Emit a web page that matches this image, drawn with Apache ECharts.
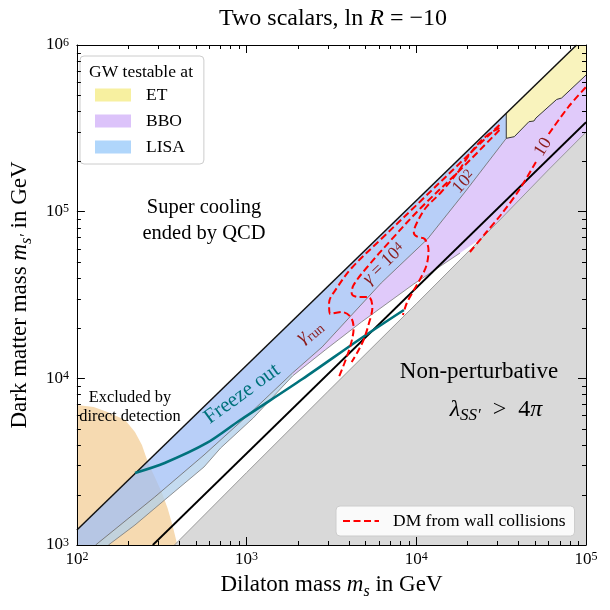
<!DOCTYPE html>
<html><head><meta charset="utf-8">
<script src="https://cdn.jsdelivr.net/npm/echarts@6/dist/echarts.min.js"></script>
<style>html,body{margin:0;padding:0;background:#fff}#c{width:610px;height:610px}</style>
</head><body><div id="c"></div>
<script>
const F = 'Liberation Serif';
// ---- axis ticks ----
const xMajor = [100, 1000, 10000, 100000];
const yMajor = [1000, 10000, 100000, 1000000];
const minorMult = [2, 3, 4, 5, 6, 7, 8, 9];

// ---- boundary lines ----
const upperLine = [[100, 1230], [88000, 1000000]];
const lowerLine = [[280, 1000], [100000, 344000]];
const freezeOut = [[220, 2705], [329, 3105], [583, 4093], [918, 5623], [2133, 9908], [4757, 17460], [8450, 25700]];

// ---- regions ----
const lisaRegion = [[100, 1000], [100, 1230], [33900, 389500], [33900, 275400], [19360, 131200], [11650, 68550], [6210, 37330], [2786, 15420], [1866, 10770], [1052, 6194], [561, 3467], [287.7, 1941], [128.9, 1000]];
const lisaLowBand = [[128.9, 1000], [287.7, 1941], [561, 3467], [1052, 6194], [1866, 10770], [1866, 10330], [1094, 5781], [703, 3819], [561, 2938], [328.7, 1862], [219.8, 1318], [153.4, 1000]];
const bboRegion = [[1866, 10770], [2786, 15420], [6210, 37330], [11650, 68550], [19360, 131200], [33900, 275400], [37800, 281800], [38800, 288400], [46100, 346700], [49320, 349900], [50700, 364800], [67100, 471000], [71800, 480800], [100000, 660000], [100000, 190500], [18100, 56490], [9660, 36810], [4753, 21780], [2904, 14790], [1866, 10330]];
const etRegion = [[33900, 275400], [33900, 389500], [88000, 1000000], [100000, 1000000], [100000, 660000], [71800, 480800], [67100, 471000], [50700, 364800], [49320, 349900], [46100, 346700], [38800, 288400], [37800, 281800]];
const grayRegion = [[376, 1000], [1000, 2720], [3000, 8300], [10000, 28000], [30000, 86000], [60000, 178000], [100000, 300000], [100000, 1000]];
const ddRegion = [[100, 1000], [100, 6918], [125.5, 6730], [151.4, 6281], [192.3, 5623], [219.8, 4764], [241.6, 3981], [261.8, 3148], [287.7, 2559], [315.5, 2080], [342, 1667], [365.5, 1318], [390.9, 1000]];

// ---- outlines ----
const edgeL1 = [[128.9, 1000], [287.7, 1941], [561, 3467], [1052, 6194], [1866, 10770], [2786, 15420], [6210, 37330], [11650, 68550], [19360, 131200], [33900, 275400]];
const edgeL2 = [[153.4, 1000], [219.8, 1318], [328.7, 1862], [561, 2938], [703, 3819], [1094, 5781], [1866, 10330], [2904, 14790], [4753, 21780], [9660, 36810], [18100, 56490]];
const edgeGray = [[376, 1000], [1000, 2720], [3000, 8300], [10000, 28000], [30000, 86000], [60000, 178000], [100000, 300000]];
const edgeET = [[33900, 389500], [33900, 275400], [37800, 281800], [38800, 288400], [46100, 346700], [49320, 349900], [50700, 364800], [67100, 471000], [71800, 480800], [100000, 660000]];

// ---- gamma contours (DM from wall collisions) ----
const gRun = [[30900, 331000], [18100, 195900], [10620, 115900], [6210, 68550], [4160, 45920], [3403, 34830], [3062, 28310], [3104, 24320], [3639, 25000], [4102, 23330], [4272, 20040], [4102, 15850], [3793, 12530], [3499, 10190]];
const g1e4 = [[30900, 309000], [18100, 177800], [10620, 105200], [7096, 67600], [5082, 45920], [4272, 36310], [4160, 32510], [4508, 30760], [5224, 30760], [5510, 26790], [5224, 20890], [4887, 16980], [4508, 14390], [4160, 12530]];
const g1e2 = [[30900, 317700], [26300, 288400], [21530, 234400], [17380, 170600], [13870, 129400], [11350, 105200], [9940, 83180], [9670, 74470], [10190, 70470], [11200, 68550], [11800, 58880], [11500, 47860], [10620, 39990], [9530, 32960], [8790, 28310], [8340, 23990]];
const g10a = [[20700, 57280], [25940, 75510], [32140, 98160], [40360, 134900], [50700, 198600]];
const g10b = [[60300, 292400], [78700, 424600], [100000, 559800]];

const DM = 'DM from wall collisions';
const DARKRED = '#8b1a1a';
const TEAL = '#00727c';

function poly(points, fill) {
  return function (params, api) {
    if (params.dataIndex !== 0) return null;
    return { type: 'polygon', shape: { points: points.map(p => api.coord(p)) }, style: { fill: fill } };
  };
}
function region(name, data, fill, legendColor, z) {
  return { type: 'custom', name: name, data: data, coordinateSystem: 'cartesian2d', clip: true, silent: true, z: z,
    itemStyle: { color: legendColor || fill }, renderItem: poly(data, fill) };
}
function line(name, data, color, width, type, z, smooth) {
  return { type: 'line', name: name, data: data, symbol: 'none', silent: true, z: z, smooth: smooth || false,
    clip: true, itemStyle: { color: color }, lineStyle: { color: color, width: width, type: type || 'solid' } };
}

const minorX = [], minorY = [];
xMajor.slice(0, -1).forEach(d => minorMult.forEach(m => minorX.push(d * m)));
yMajor.slice(0, -1).forEach(d => minorMult.forEach(m => minorY.push(d * m)));

const tickStyle = { stroke: '#000', lineWidth: 1 };
const minorTicks = {
  type: 'custom', coordinateSystem: 'cartesian2d', silent: true, z: 20,
  data: minorX.map(v => [v, 1000]).concat(minorY.map(v => [100, v])),
  renderItem: function (params, api) {
    const cs = params.coordSys;
    const p = api.coord([api.value(0), api.value(1)]);
    if (params.dataIndex < minorX.length) {
      const x = Math.round(p[0]) + 0.5;
      return { type: 'group', children: [
        { type: 'line', shape: { x1: x, y1: cs.y + cs.height, x2: x, y2: cs.y + cs.height - 4 }, style: tickStyle },
        { type: 'line', shape: { x1: x, y1: cs.y, x2: x, y2: cs.y + 4 }, style: tickStyle }] };
    } else {
      const y = Math.round(p[1]) + 0.5;
      return { type: 'group', children: [
        { type: 'line', shape: { x1: cs.x, y1: y, x2: cs.x + 4, y2: y }, style: tickStyle },
        { type: 'line', shape: { x1: cs.x + cs.width, y1: y, x2: cs.x + cs.width - 4, y2: y }, style: tickStyle }] };
    }
  }
};

const labRich = {
  b: { fontFamily: F, fontSize: 17, color: '#000', verticalAlign: 'bottom' },
  e: { fontFamily: F, fontSize: 12, color: '#000', verticalAlign: 'top' }
};
const fmt = v => '{b|10}{e|' + Math.round(Math.log10(v)) + '}';
const nameRich = {
  n: { fontFamily: F, fontSize: 23, color: '#000', verticalAlign: 'bottom', padding: [0, 0, 4, 0] },
  i: { fontFamily: F, fontSize: 23, color: '#000', fontStyle: 'italic', verticalAlign: 'bottom', padding: [0, 0, 4, 0] },
  s: { fontFamily: F, fontSize: 16, color: '#000', fontStyle: 'italic', verticalAlign: 'bottom' }
};
function axisBase(extra) {
  return Object.assign({
    type: 'log', logBase: 10, z: 10,
    axisLine: { show: true, lineStyle: { color: '#000', width: 1 } },
    axisTick: { show: true, inside: true, length: 8, lineStyle: { color: '#000', width: 1 } },
    splitLine: { show: false }, minorTick: { show: false }
  }, extra);
}
function txt(x, y, rotDeg, text, size, color, rich, extra) {
  const st = Object.assign({ text: text, fontFamily: F, fontSize: size, fill: color, align: 'center', verticalAlign: 'middle' }, extra || {});
  if (rich) st.rich = rich;
  return { type: 'text', x: x, y: y, rotation: rotDeg * Math.PI / 180, z: 50, silent: true, style: st };
}
function mathRich(size, color) {
  const sm = Math.round(size * 0.7);
  return {
    n: { fontFamily: F, fontSize: size, fill: color, verticalAlign: 'bottom', padding: [0, 0, 3, 0] },
    i: { fontFamily: F, fontSize: size, fontStyle: 'italic', fill: color, verticalAlign: 'bottom', padding: [0, 0, 3, 0] },
    s: { fontFamily: F, fontSize: sm, fill: color, verticalAlign: 'bottom' },
    si: { fontFamily: F, fontSize: sm, fontStyle: 'italic', fill: color, verticalAlign: 'bottom' },
    e: { fontFamily: F, fontSize: sm, fill: color, verticalAlign: 'top' }
  };
}

const chart = echarts.init(document.getElementById('c'), null, { renderer: 'canvas' });
chart.setOption({
  animation: false,
  backgroundColor: '#fff',
  grid: { left: 71, top: 45, right: 24, bottom: 65, containLabel: false },
  title: {
    text: '{n|Two scalars, ln }{i|R}{n| = −10}', left: 328, top: 2, textAlign: 'center',
    textStyle: { fontWeight: 'normal', rich: {
      n: { fontFamily: F, fontSize: 24, color: '#000', fontWeight: 'normal' },
      i: { fontFamily: F, fontSize: 24, color: '#000', fontStyle: 'italic', fontWeight: 'normal' } } }
  },
  xAxis: [
    axisBase({ min: 100, max: 100000, position: 'bottom',
      axisLabel: { formatter: fmt, rich: labRich, margin: 6, showMinLabel: true, showMaxLabel: true },
      name: '{n|Dilaton mass }{i|m}{s|s}{n| in GeV}', nameLocation: 'middle', nameGap: 28,
      nameTextStyle: { rich: nameRich } }),
    axisBase({ min: 100, max: 100000, position: 'top', axisLabel: { show: false } })
  ],
  yAxis: [
    axisBase({ min: 1000, max: 1000000, position: 'left',
      axisLabel: { formatter: fmt, rich: labRich, margin: 8, showMinLabel: true, showMaxLabel: true },
      name: '{n|Dark matter mass }{i|m}{s|s′}{n| in GeV}', nameLocation: 'middle', nameGap: 37,
      nameTextStyle: { rich: nameRich } }),
    axisBase({ min: 1000, max: 1000000, position: 'right', axisLabel: { show: false } })
  ],
  legend: [
    { data: [{ name: 'ET', icon: 'rect' }, { name: 'BBO', icon: 'rect' }, { name: 'LISA', icon: 'rect' }],
      orient: 'vertical', left: 80, top: 56, padding: [30, 19, 8, 15], itemWidth: 36, itemHeight: 13, itemGap: 8,
      backgroundColor: 'rgba(255,255,255,0.85)', borderColor: '#ccc', borderWidth: 1, borderRadius: 4,
      selectedMode: false, formatter: '{a|{name}}',
      textStyle: { rich: { a: { fontFamily: F, fontSize: 17.5, color: '#000', padding: [0, 0, 0, 10] } } } },
    { data: [{ name: DM, itemStyle: { opacity: 0 } }], left: 336, top: 506, padding: [6, 9, 6, 6], itemWidth: 36, itemHeight: 14,
      backgroundColor: 'rgba(255,255,255,0.85)', borderColor: '#ccc', borderWidth: 1, borderRadius: 4,
      selectedMode: false, formatter: '{a|{name}}',
      textStyle: { rich: { a: { fontFamily: F, fontSize: 17.5, lineHeight: 17, color: '#000', padding: [0, 0, 0, 9] } } } }
  ],
  graphic: [
    txt(141, 72, 0, 'GW testable at', 17.5, '#000'),
    txt(204, 221, 0, 'Super cooling\nended by QCD', 20.5, '#000', null, { lineHeight: 26 }),
    txt(130, 407, 0, 'Excluded by\ndirect detection', 16.4, '#000', null, { lineHeight: 19 }),
    txt(479, 372, 0, 'Non-perturbative', 23, '#000'),
    txt(496, 411, 0, '{i|λ}{si|SS′}{n|  >  4}{i|π}', 24, '#000', mathRich(24, '#000')),
    txt(242, 394, 36, 'Freeze out', 21, TEAL),
    txt(310, 332, 40, '{i|γ}{s|run}', 20, DARKRED, mathRich(20, DARKRED)),
    txt(385, 265, 44, '{i|γ}{n| = 10}{e|4}', 18, DARKRED, mathRich(18, DARKRED)),
    txt(465, 183, 47, '{n|10}{e|2}', 18, DARKRED, mathRich(18, DARKRED)),
    txt(543, 147, 58, '10', 18, DARKRED)
  ],
  series: [
    region('', ddRegion, '#f6dab1', null, 1),
    region('BBO', bboRegion, '#e0cafa', '#dcc3fa', 2),
    region('', lisaLowBand, 'rgba(176,207,235,0.75)', null, 2),
    region('LISA', lisaRegion, 'rgba(160,191,246,0.75)', '#b0d6fb', 2),
    region('ET', etRegion, '#f9f3bd', '#f7f0a0', 2),
    region('', grayRegion, '#d9d9d9', null, 3),
    line('', edgeL1, '#666', 0.8, 'solid', 4),
    line('', edgeL2, '#777', 0.8, 'solid', 4),
    line('', edgeGray, '#888', 0.8, 'solid', 4),
    line('', edgeET, '#333', 1, 'solid', 4),
    line('', upperLine, '#111', 1.5, 'solid', 5),
    line('', lowerLine, '#000', 1.8, 'solid', 5),
    line('', freezeOut, TEAL, 2.6, 'solid', 6, 0.3),
    line(DM, gRun, '#ff0000', 2, [7, 3.5], 7, 0.35),
    line(DM, g1e4, '#ff0000', 2, [7, 3.5], 7, 0.35),
    line(DM, g1e2, '#ff0000', 2, [7, 3.5], 7, 0.35),
    line(DM, g10a, '#ff0000', 2, [7, 3.5], 7, 0.3),
    line(DM, g10b, '#ff0000', 2, [7, 3.5], 7, 0.3),
    minorTicks
  ]
});
</script></body></html>
